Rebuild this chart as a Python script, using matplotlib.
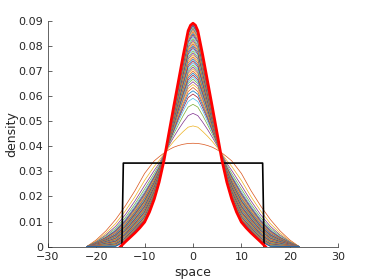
import matplotlib
matplotlib.use('Agg')
import matplotlib.pyplot as plt

# half profiles (x >= 0), the picture is symmetric about x = 0
x_half = [0, 1, 2, 3, 4, 5, 6, 7, 8, 10, 12, 14, 16, 18, 20, 22]

# density x 1e4 for each intermediate curve, first (widest) to last
curves_1e4 = [
    [412, 411, 408, 403, 396, 386, 373, 358, 342, 292, 223, 162, 108, 63, 27, 0],
    [481, 476, 459, 440, 419, 395, 369, 343, 320, 264, 199, 142, 92, 54, 23, 0],
    [531, 522, 496, 467, 436, 402, 366, 332, 304, 244, 182, 127, 81, 47, 20, 0],
    [567, 556, 523, 486, 448, 407, 363, 325, 292, 230, 170, 116, 73, 43, 18, 0],
    [591, 578, 541, 499, 456, 410, 362, 320, 284, 220, 162, 109, 68, 39, 17, 0],
    [608, 594, 553, 509, 461, 412, 361, 316, 279, 213, 156, 104, 64, 37, 16, 0],
    [621, 607, 563, 515, 466, 414, 360, 313, 275, 208, 152, 100, 61, 35, 15, 0],
    [634, 618, 572, 522, 470, 416, 359, 311, 271, 203, 147, 96, 58, 34, 14, 0],
    [646, 630, 581, 529, 474, 417, 358, 308, 267, 198, 143, 92, 55, 32, 14, 0],
    [657, 640, 589, 535, 478, 419, 358, 305, 263, 194, 139, 89, 53, 31, 13, 0],
    [667, 650, 597, 540, 481, 420, 357, 303, 260, 190, 136, 86, 50, 29, 13, 0],
    [675, 656, 602, 544, 484, 421, 356, 302, 257, 186, 133, 84, 49, 28, 12, 0],
    [683, 664, 609, 548, 486, 422, 356, 300, 255, 183, 131, 81, 47, 27, 12, 0],
    [691, 672, 615, 553, 489, 423, 356, 298, 252, 180, 128, 79, 45, 26, 11, 0],
    [699, 679, 621, 557, 492, 424, 355, 296, 250, 177, 125, 77, 43, 25, 11, 0],
    [707, 687, 626, 562, 495, 425, 354, 294, 247, 174, 122, 74, 41, 24, 10, 0],
    [715, 694, 632, 566, 497, 427, 354, 293, 244, 170, 120, 72, 40, 23, 10, 0],
    [723, 702, 638, 570, 500, 428, 353, 291, 242, 167, 117, 70, 38, 22, 9, 0],
    [731, 709, 644, 575, 503, 429, 353, 289, 239, 164, 114, 67, 36, 21, 9, 0],
    [739, 717, 650, 579, 505, 430, 352, 288, 237, 161, 111, 65, 34, 20, 9, 0],
    [747, 724, 656, 583, 508, 431, 352, 286, 234, 157, 109, 62, 32, 19, 8, 0],
    [755, 732, 662, 587, 511, 432, 351, 284, 231, 154, 106, 60, 31, 18, 8, 0],
    [763, 739, 668, 592, 513, 433, 351, 282, 229, 151, 103, 58, 29, 17, 7, 0],
    [771, 747, 674, 596, 516, 434, 350, 281, 226, 148, 101, 55, 27, 16, 7, 0],
    [779, 754, 680, 600, 519, 435, 350, 279, 224, 145, 98, 53, 25, 15, 6, 0],
    [787, 762, 686, 605, 522, 436, 349, 277, 221, 141, 95, 51, 23, 14, 6, 0],
    [794, 768, 691, 608, 524, 437, 349, 276, 219, 139, 93, 49, 22, 13, 5, 0],
    [801, 775, 696, 612, 526, 438, 349, 274, 217, 136, 90, 46, 20, 12, 5, 0],
    [808, 782, 701, 616, 528, 439, 348, 272, 215, 133, 88, 44, 19, 11, 5, 0],
    [815, 788, 707, 620, 531, 440, 348, 271, 212, 130, 86, 42, 17, 10, 4, 0],
    [822, 794, 712, 623, 533, 441, 347, 270, 210, 127, 83, 40, 15, 9, 4, 0],
    [829, 801, 717, 627, 536, 442, 347, 268, 208, 125, 81, 38, 14, 8, 3, 0],
    [836, 807, 722, 631, 538, 443, 346, 267, 205, 122, 78, 36, 12, 7, 3, 0],
    [843, 814, 727, 634, 540, 444, 346, 265, 203, 119, 76, 34, 11, 6, 3, 0],
    [849, 820, 732, 638, 542, 445, 346, 264, 201, 116, 74, 32, 9, 5, 2, 0],
    [855, 826, 736, 641, 545, 445, 345, 262, 199, 114, 72, 30, 8, 5, 2, 0],
    [861, 831, 741, 645, 546, 446, 345, 261, 198, 112, 70, 29, 7, 4, 2, 0],
    [867, 836, 745, 647, 548, 447, 344, 260, 196, 109, 68, 27, 5, 3, 1, 0],
    [872, 841, 749, 651, 550, 448, 344, 259, 194, 107, 66, 25, 4, 2, 1, 0],
    [877, 846, 752, 653, 552, 448, 344, 258, 192, 105, 64, 24, 3, 2, 1, 0],
    [881, 849, 756, 655, 553, 449, 344, 257, 191, 104, 63, 23, 2, 1, 1, 0],
    [885, 853, 758, 657, 554, 449, 343, 256, 190, 102, 62, 21, 1, 1, 0, 0],
]

# final density (thick red), half profile
red_x = [0, 0.5, 1, 2, 3, 4, 5, 6, 7, 8, 9, 10, 11, 12, 13, 14, 15]
red_y = [.0890, .0882, .0860, .0764, .0660, .0556, .0450, .0343, .0257, .0190, .0138, .0098, .0075, .0055, .0037, .0019, 0]

# initial uniform density on [-15, 15]
init_x = [-14.7, -14.4, 14.4, 14.7]
init_y = [0, 0.0333, 0.0333, 0]

xticks = [-30, -20, -10, 0, 10, 20, 30]
yticks = [0, .01, .02, .03, .04, .05, .06, .07, .08, .09]
ytick_labels = ['0', '0.01', '0.02', '0.03', '0.04', '0.05', '0.06', '0.07', '0.08', '0.09']

# matlab default colour order, starting at the 2nd colour
cols = ['#D95319', '#EDB120', '#7E2F8E', '#77AC30', '#4DBEEE', '#A2142F', '#0072BD']


def mirror(xh, yh):
    xf = [-a for a in xh[::-1]] + list(xh[1:])
    yf = list(yh[::-1]) + list(yh[1:])
    return xf, yf


fig = plt.figure(figsize=(3.74, 2.8), dpi=100)
ax = fig.add_axes([0.128, 0.119, 0.776, 0.807])

for i, c in enumerate(curves_1e4):
    xf, yf = mirror(x_half, [v / 1e4 for v in c])
    ax.plot(xf, yf, color=cols[i % len(cols)], lw=0.5)

ax.plot(init_x, init_y, color='k', lw=1.2)
rx, ry = mirror(red_x, red_y)
ax.plot(rx, ry, color='red', lw=2, solid_joinstyle='round')

ax.set_xlim(-30, 30)
ax.set_ylim(0, 0.09)
ax.set_xticks(xticks)
ax.set_yticks(yticks)
ax.set_yticklabels(ytick_labels)
for s in ['top', 'right']:
    ax.spines[s].set_visible(False)
for s in ['left', 'bottom']:
    ax.spines[s].set_color('#262626')
    ax.spines[s].set_linewidth(0.5)
ax.tick_params(direction='in', length=3, width=0.5, color='#262626', labelcolor='#262626', labelsize=8)
ax.set_xlabel('space', fontsize=9, color='#262626', labelpad=3)
ax.set_ylabel('density', fontsize=9, color='#262626', labelpad=0)

fig.savefig('out.png')
